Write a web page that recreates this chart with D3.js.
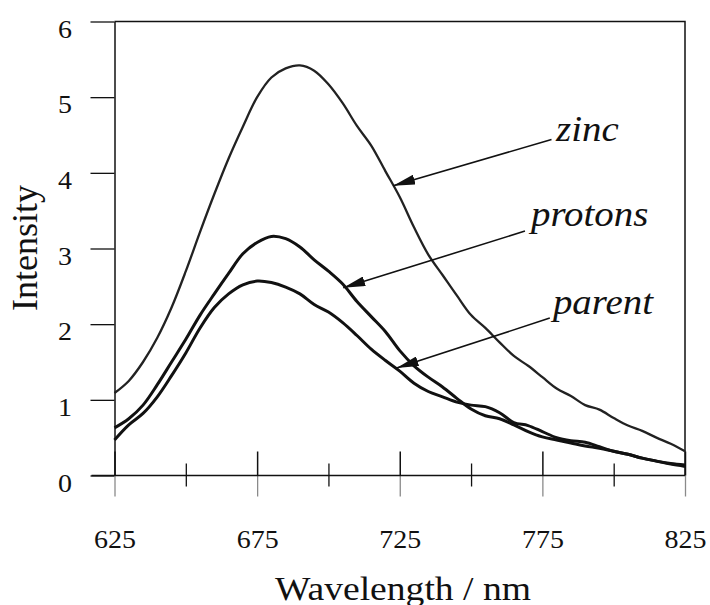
<!DOCTYPE html>
<html>
<head>
<meta charset="utf-8">
<script src="https://cdn.jsdelivr.net/npm/d3@7"></script>
<style>
  body { margin: 0; background: #fff; }
  svg text { font-family: "Liberation Serif", "Times New Roman", serif; fill: #111; }
</style>
</head>
<body>
<div id="chart"></div>
<script>
// wavelength grid (nm)
var wavelengths = [625, 630, 635, 640, 645, 650, 655, 660, 665, 670,
                   675, 680, 685, 690, 695, 700, 705, 710, 715, 720,
                   725, 730, 735, 740, 745, 750, 755, 760, 765, 770,
                   775, 780, 785, 790, 795, 800, 805, 810, 815, 820, 825];

var zincValues = [1.09, 1.25, 1.50, 1.82, 2.22, 2.70, 3.22, 3.72, 4.19, 4.61,
                  5.00, 5.26, 5.38, 5.42, 5.35, 5.17, 4.92, 4.62, 4.36, 4.02,
                  3.68, 3.28, 2.92, 2.65, 2.38, 2.12, 1.95, 1.76, 1.58, 1.45,
                  1.30, 1.15, 1.05, 0.93, 0.87, 0.76, 0.66, 0.59, 0.50, 0.42, 0.32];

var protonValues = [0.63, 0.75, 0.93, 1.20, 1.50, 1.80, 2.12, 2.40, 2.67, 2.93,
                    3.08, 3.16, 3.13, 3.02, 2.85, 2.70, 2.53, 2.30, 2.10, 1.90,
                    1.65, 1.45, 1.30, 1.17, 1.02, 0.88, 0.79, 0.75, 0.67, 0.58,
                    0.51, 0.47, 0.43, 0.39, 0.36, 0.32, 0.28, 0.23, 0.19, 0.15, 0.12];

var parentValues = [0.47, 0.67, 0.82, 1.04, 1.32, 1.62, 1.95, 2.22, 2.40, 2.52,
                    2.57, 2.55, 2.49, 2.40, 2.26, 2.16, 2.02, 1.85, 1.67, 1.52,
                    1.38, 1.22, 1.11, 1.04, 0.97, 0.93, 0.91, 0.83, 0.70, 0.66,
                    0.58, 0.50, 0.46, 0.44, 0.38, 0.32, 0.28, 0.23, 0.19, 0.16, 0.14];

var xMajorTicks = [625, 675, 725, 775, 825];
var xMinorTicks = [650, 700, 750, 800];
var yTicks = [0, 1, 2, 3, 4, 5, 6];

// label text, arrow tail and arrow tip in data units (wavelength, intensity)
var labelNames = ["zinc", "protons", "parent"];
var labelAt   = [[779.8, 4.42], [771.0, 3.30], [778.7, 2.13]];
var arrowFrom = [[778.2, 4.44], [768.9, 3.23], [777.6, 2.08]];
var arrowTo   = [[722.7, 3.83], [705.2, 2.48], [723.9, 1.42]];

var serif = '"Liberation Serif", "Times New Roman", serif';
var W = 710, H = 605;
var plotL = 114.5, plotR = 685, plotT = 21.5, plotB = 475.5;

var svg = d3.select("#chart").append("svg")
    .attr("width", W).attr("height", H);

svg.append("rect").attr("width", W).attr("height", H).attr("fill", "#fff");

var x = d3.scaleLinear().domain([625, 825]).range([plotL, plotR]);
var y = d3.scaleLinear().domain([0, 6]).range([plotB, plotT]);

// frame (top + right)
svg.append("path")
    .attr("d", "M" + plotL + "," + plotT + "H" + plotR + "V" + plotB)
    .attr("fill", "none").attr("stroke", "#111").attr("stroke-width", 1.5);

// y axis
var yAxis = svg.append("g")
    .attr("transform", "translate(" + plotL + ",0)")
    .call(d3.axisLeft(y).tickValues(yTicks).tickFormat(d3.format("d"))
        .tickSize(24).tickSizeOuter(0));
yAxis.attr("font-family", serif);
yAxis.select(".domain").attr("stroke", "#111").attr("stroke-width", 1.5);
yAxis.selectAll(".tick line").attr("stroke", "#111").attr("stroke-width", 1.3);
yAxis.selectAll(".tick text")
    .attr("x", null).attr("dy", null).attr("y", 15.5)
    .attr("transform", "translate(-42.5,0) scale(1.12,1)")
    .attr("text-anchor", "end")
    .style("font-family", serif)
    .style("font-size", "25px");

// x axis: labels + lower part of major ticks
var xAxis = svg.append("g")
    .attr("transform", "translate(0," + plotB + ")")
    .call(d3.axisBottom(x).tickValues(xMajorTicks).tickFormat(d3.format("d"))
        .tickSize(21).tickSizeOuter(0));
xAxis.attr("font-family", serif);
xAxis.select(".domain").remove();
xAxis.selectAll(".tick line").attr("stroke", "#8a8a8a").attr("stroke-width", 1.3);
xAxis.selectAll(".tick text")
    .attr("dy", null).attr("y", 73)
    .attr("transform", "scale(1.12,1)")
    .style("font-family", serif)
    .style("font-size", "25px");

// upper part of major ticks
var xTop = svg.append("g")
    .attr("transform", "translate(0," + plotB + ")")
    .call(d3.axisTop(x).tickValues(xMajorTicks).tickSize(24).tickSizeOuter(0).tickFormat(""));
xTop.select(".domain").remove();
xTop.selectAll(".tick line").attr("stroke", "#111").attr("stroke-width", 1.5);

// minor ticks crossing the axis
[d3.axisTop(x).tickSize(12), d3.axisBottom(x).tickSize(11)].forEach(function(ax){
    var g = svg.append("g")
        .attr("transform", "translate(0," + plotB + ")")
        .call(ax.tickValues(xMinorTicks).tickSizeOuter(0).tickFormat(""));
    g.select(".domain").remove();
    g.selectAll(".tick line").attr("stroke", "#111").attr("stroke-width", 1.3);
});

// baseline
svg.append("line")
    .attr("x1", plotL - 23).attr("x2", plotR)
    .attr("y1", plotB).attr("y2", plotB)
    .attr("stroke", "#111").attr("stroke-width", 1.6);

// spectra
var line = d3.line()
    .x(function(d, i){ return x(wavelengths[i]); })
    .y(function(d){ return y(d); })
    .curve(d3.curveCatmullRom.alpha(0.5));

svg.append("path").datum(zincValues).attr("d", line)
    .attr("fill", "none").attr("stroke", "#222").attr("stroke-width", 2.3);
svg.append("path").datum(protonValues).attr("d", line)
    .attr("fill", "none").attr("stroke", "#111").attr("stroke-width", 3);
svg.append("path").datum(parentValues).attr("d", line)
    .attr("fill", "none").attr("stroke", "#111").attr("stroke-width", 3);

// arrows
svg.append("defs").append("marker")
    .attr("id", "head")
    .attr("viewBox", "0 0 22 10")
    .attr("refX", 22).attr("refY", 5)
    .attr("markerWidth", 22).attr("markerHeight", 10)
    .attr("markerUnits", "userSpaceOnUse")
    .attr("orient", "auto")
  .append("path")
    .attr("d", "M0,0L22,5L0,10Z")
    .attr("fill", "#111");

for (var i = 0; i < labelNames.length; i++) {
    svg.append("line")
        .attr("x1", x(arrowFrom[i][0])).attr("y1", y(arrowFrom[i][1]))
        .attr("x2", x(arrowTo[i][0])).attr("y2", y(arrowTo[i][1]))
        .attr("stroke", "#111").attr("stroke-width", 1.6)
        .attr("marker-end", "url(#head)");
    svg.append("text")
        .attr("transform", "translate(" + x(labelAt[i][0]) + "," + y(labelAt[i][1]) + ") scale(1.08,1)")
        .style("font-family", serif)
        .style("font-size", "36px").style("font-style", "italic")
        .text(labelNames[i]);
}

// axis titles
svg.append("text")
    .attr("x", 403).attr("y", 600)
    .attr("text-anchor", "middle")
    .attr("textLength", 256).attr("lengthAdjust", "spacingAndGlyphs")
    .style("font-family", serif)
    .style("font-size", "34px")
    .text("Wavelength / nm");

svg.append("text")
    .attr("transform", "translate(37,248) rotate(-90)")
    .attr("text-anchor", "middle")
    .style("font-family", serif)
    .style("font-size", "36px")
    .text("Intensity");
</script>
</body>
</html>
